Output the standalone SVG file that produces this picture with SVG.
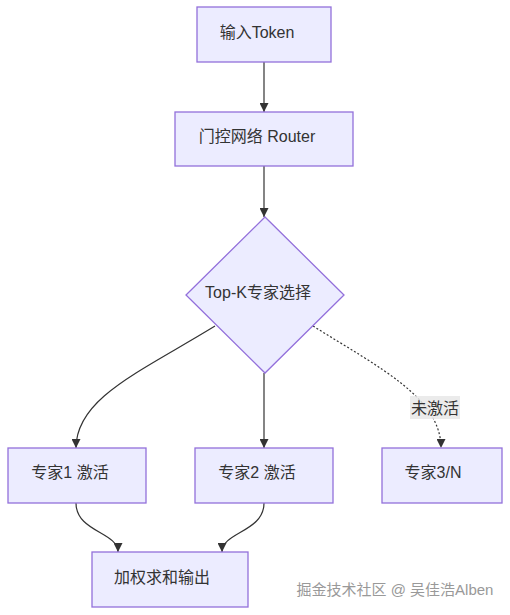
<svg xmlns="http://www.w3.org/2000/svg" width="510" height="615" viewBox="0 0 510 615">
<style>
.node rect,.node polygon{fill:#ECECFF;stroke:#9370DB;stroke-width:1.3}
.node text{font-family:"Liberation Sans","Noto Sans CJK SC",sans-serif;font-size:16px;fill:#333;text-anchor:middle;dominant-baseline:central}
.edge{fill:none;stroke:#333;stroke-width:1.2}
.dot{stroke-dasharray:2 2}
.lbl{font-family:"Liberation Sans","Noto Sans CJK SC",sans-serif;font-size:16px;fill:#333;text-anchor:middle;dominant-baseline:central}
.wm{font-family:"Liberation Sans","Noto Sans CJK SC",sans-serif;font-size:15px;fill:#999;text-anchor:middle;dominant-baseline:central}
</style>
<defs>
<marker id="arr" viewBox="0 0 10 10" refX="10" refY="5" markerWidth="9" markerHeight="9" markerUnits="userSpaceOnUse" orient="auto">
<path d="M0,0 L10,5 L0,10 z" fill="#333"/>
</marker>
</defs>
<rect width="510" height="615" fill="#fff"/>
<g id="edges">
<path class="edge" d="M264,62 L264,112" marker-end="url(#arr)"/>
<path class="edge" d="M264,166 L264,217" marker-end="url(#arr)"/>
<path class="edge" d="M264,373 L264,448" marker-end="url(#arr)"/>
<path class="edge" d="M215,326 C140,372 76,398 76,448" marker-end="url(#arr)"/>
<path class="edge dot" d="M313,326 C380,368 441,398 441,448" marker-end="url(#arr)"/>
<path class="edge" d="M76,503 C76,532 118,532 118,552" marker-end="url(#arr)"/>
<path class="edge" d="M264,503 C264,532 222,532 222,552" marker-end="url(#arr)"/>
<rect x="410" y="396" width="50" height="23" fill="#e8e8e8" fill-opacity="0.85"/>
<text class="lbl" x="435" y="408">未激活</text>
</g>
<g id="input" class="node"><rect x="197" y="7" width="134" height="55"/><text x="257" y="32">输入Token</text></g>
<g id="router" class="node"><rect x="175" y="112" width="178" height="54"/><text x="257" y="136">门控网络 Router</text></g>
<g id="topk" class="node"><polygon points="265,217 344,295 265,373 186,295"/><text x="258" y="292">Top-K专家选择</text></g>
<g id="e1" class="node"><rect x="8" y="448" width="138" height="55"/><text x="70" y="472">专家1 激活</text></g>
<g id="e2" class="node"><rect x="195" y="448" width="138" height="55"/><text x="257" y="472">专家2 激活</text></g>
<g id="e3" class="node"><rect x="382" y="448" width="120" height="55"/><text x="433" y="472">专家3/N</text></g>
<g id="out" class="node"><rect x="92" y="552" width="156" height="55"/><text x="162" y="577">加权求和输出</text></g>
<text class="wm" x="395" y="589">掘金技术社区 @ 吴佳浩Alben</text>
</svg>
